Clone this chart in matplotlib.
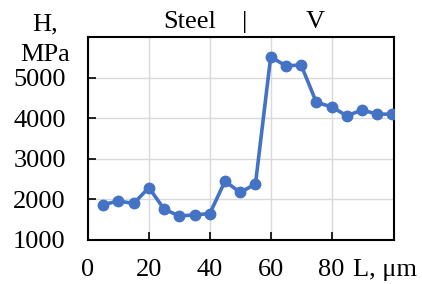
import matplotlib as mpl
mpl.use('Agg')
import matplotlib.pyplot as plt

# depth profile of microhardness
depth_um = [5, 10, 15, 20, 25, 30, 35, 40, 45, 50, 55, 60, 65, 70, 75, 80, 85, 90, 95, 100]
hardness_mpa = [1870, 1960, 1900, 2290, 1760, 1590, 1620, 1650, 2450, 2170, 2380,
                5510, 5290, 5310, 4390, 4280, 4060, 4200, 4100, 4100]
xticks = [0, 20, 40, 60, 80]
yticks = [1000, 2000, 3000, 4000, 5000]

FS = 19
plt.rcParams.update({
    "font.family": ["Liberation Serif", "DejaVu Serif"],
    "font.size": FS,
})

fig = plt.figure(figsize=(4.22, 2.84), dpi=100)
ax = fig.add_axes([88 / 422, 1 - 240 / 284, 306 / 422, 203 / 284])

ax.plot(depth_um, hardness_mpa, color='#4472C4', lw=2.6, marker='o', ms=7.5, zorder=3)

ax.set_xlim(0, 100.5)
ax.set_ylim(1000, 6000)
ax.set_xticks(xticks)
ax.set_yticks(yticks)
ax.grid(True, color='#d9d9d9', lw=1)
ax.set_axisbelow(True)
ax.tick_params(direction='in', length=6, width=1.2, labelsize=FS)
ax.tick_params(axis='x', pad=14)
ax.tick_params(axis='y', pad=16)
for s in ax.spines.values():
    s.set_linewidth(1.5)

fig.text(45 / 422, 1 - 24 / 284, "H,", ha='center', va='center', fontsize=FS)
fig.text(45 / 422, 1 - 55 / 284, "MPa", ha='center', va='center', fontsize=FS)
fig.text(190 / 422, 1 - 22 / 284, "Steel", ha='center', va='center', fontsize=FS)
fig.text(245 / 422, 1 - 22 / 284, "|", ha='center', va='center', fontsize=FS)
fig.text(315 / 422, 1 - 22 / 284, "V", ha='center', va='center', fontsize=FS)
fig.text(385 / 422, 1 - 270 / 284, "L, \u03bcm", ha='center', va='center', fontsize=FS)

fig.savefig('out.png', dpi=100)
